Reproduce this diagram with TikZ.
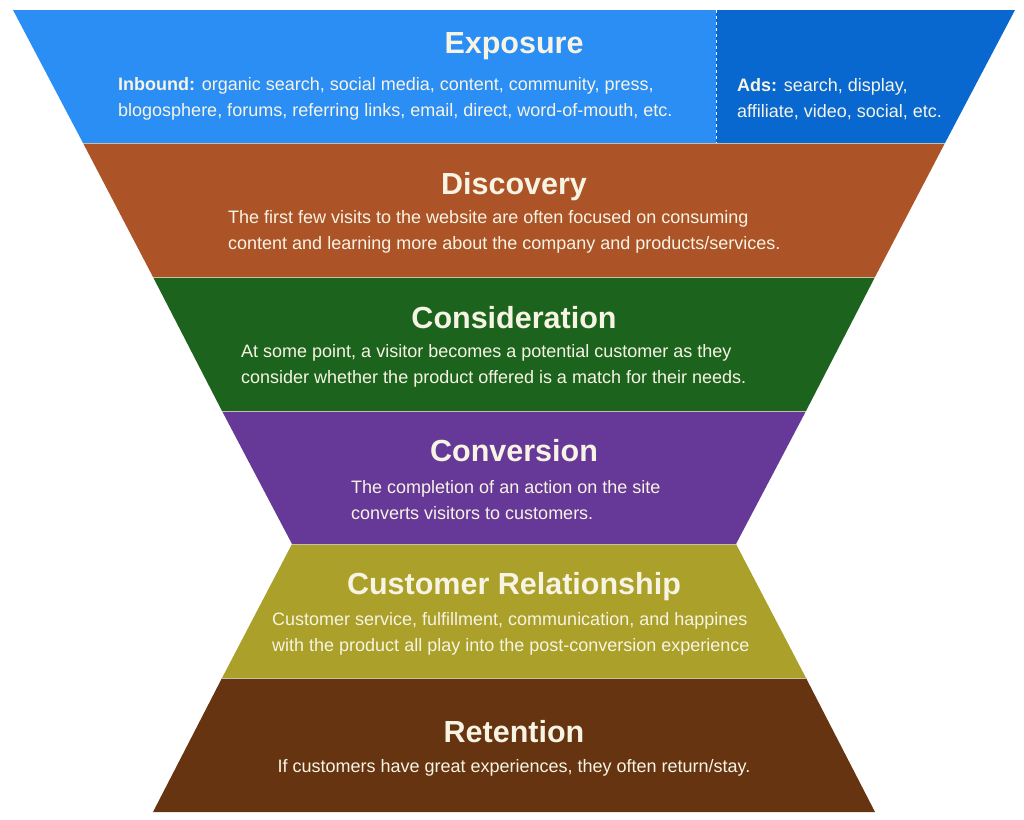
\documentclass[tikz,border=0pt]{standalone}
\usepackage{fontspec}
\setmainfont{Liberation Sans}
\definecolor{exposureblue}{RGB}{42,142,245}
\definecolor{adsblue}{RGB}{8,104,208}
\definecolor{discoverybrown}{RGB}{172,84,40}
\definecolor{considergreen}{RGB}{28,100,30}
\definecolor{conversionpurple}{RGB}{102,56,152}
\definecolor{relationolive}{RGB}{170,160,42}
\definecolor{retentionbrown}{RGB}{102,52,16}
\definecolor{creamtext}{RGB}{248,244,228}
\definecolor{seamgray}{RGB}{200,190,170}

\tikzset{
    title/.style={font=\fontsize{30.5}{32}\selectfont\bfseries, text=creamtext, inner sep=0pt},
    body/.style={font=\fontsize{18}{25.5}\selectfont, text=creamtext, align=left, anchor=west, inner sep=0pt},
}

\begin{document}
\begin{tikzpicture}[x=1pt, y=-1pt]
    \useasboundingbox (0,0) rectangle (1024,819);

    % Bandas del embudo (centro en x=514)
    \foreach \ytop/\ybot/\wtop/\wbot/\col in {143/277/431/361/discoverybrown, 277/411/361/292/considergreen, 411/544/292/222/conversionpurple, 544/678/222/292/relationolive, 678/812/292/361/retentionbrown} {
        \fill[\col] (514-\wtop,\ytop) -- (514+\wtop,\ytop) -- (514+\wbot,\ybot) -- (514-\wbot,\ybot) -- cycle;
    }

    % Exposure: inbound y ads
    \fill[exposureblue] (13,10) -- (716,10) -- (716,143) -- (83,143) -- cycle;
    \fill[adsblue] (716,10) -- (1015,10) -- (945,143) -- (716,143) -- cycle;
    \draw[white, dashed, thin] (716,10) -- (716,143);

    % Separaciones
    \foreach \y/\w in {143/431, 277/361, 411/292, 544/222, 678/292} {
        \draw[seamgray, line width=1pt] (514-\w,\y) -- (514+\w,\y);
    }

    % Textos
    \node[title] (exposure) at (514,46) {Exposure};
    \node[body] (inbound) at (118,99) {\textbf{Inbound:} organic search, social media, content, community, press,\\blogosphere, forums, referring links, email, direct, word-of-mouth, etc.};
    \node[body] (ads) at (737,99) {\textbf{Ads:} search, display,\\affiliate, video, social, etc.};

    \node[title] (discovery) at (514,187) {Discovery};
    \node[body] (discoverytxt) at (228,232) {The first few visits to the website are often focused on consuming\\content and learning more about the company and products/services.};

    \node[title] (consideration) at (514,318) {Consideration};
    \node[body] (considertxt) at (241,366) {At some point, a visitor becomes a potential customer as they\\consider whether the product offered is a match for their needs.};

    \node[title] (conversion) at (514,451) {Conversion};
    \node[body] (conversiontxt) at (351,500) {The completion of an action on the site\\converts visitors to customers.};

    \node[title] (relationship) at (514,587) {Customer Relationship};
    \node[body] (relationtxt) at (272,634) {Customer service, fulfillment, communication, and happines\\with the product all play into the post-conversion experience};

    \node[title] (retention) at (514,732) {Retention};
    \node[body, anchor=center] (retentiontxt) at (514,768) {If customers have great experiences, they often return/stay.};
\end{tikzpicture}
\end{document}
